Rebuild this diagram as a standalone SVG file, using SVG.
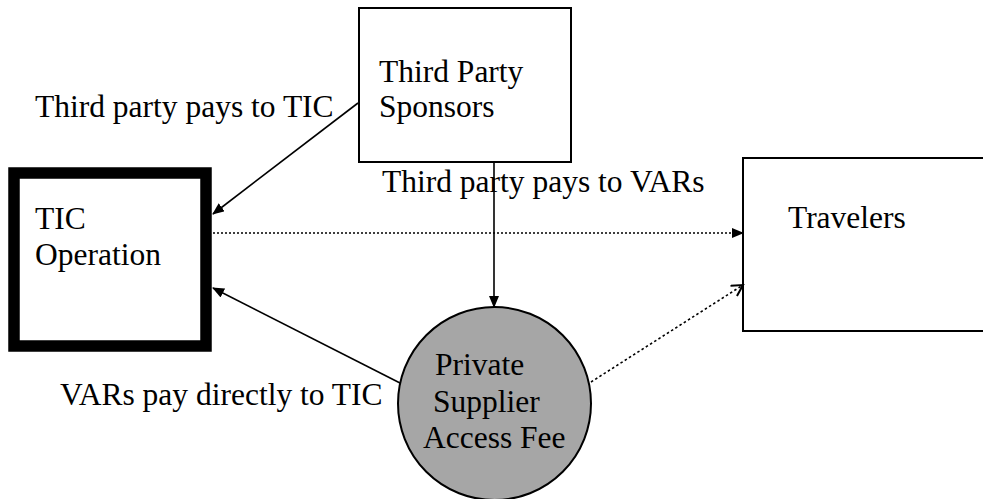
<svg xmlns="http://www.w3.org/2000/svg" width="983" height="499" viewBox="0 0 983 499">
<style>
text{font-family:"Liberation Serif","Times New Roman",serif;font-size:31.5px;fill:#000}
.box{fill:#fff;stroke:#000;stroke-width:2}
.conn{fill:none;stroke:#000;stroke-width:1.6}
</style>
<defs>
<marker id="fa" markerWidth="12" markerHeight="10" refX="11" refY="5" orient="auto" markerUnits="userSpaceOnUse">
<path d="M0,0 L12,5 L0,10 z" fill="#000"/>
</marker>
<marker id="oa" markerWidth="14" markerHeight="14" refX="12" refY="7" orient="auto" markerUnits="userSpaceOnUse">
<path d="M1,1 L12,7 L1,13" fill="none" stroke="#000" stroke-width="2"/>
</marker>
</defs>
<g id="tic">
<rect x="14" y="173" width="192" height="173" fill="#fff" stroke="#000" stroke-width="11.5"/>
<text x="35" y="229">TIC</text>
<text x="35" y="265">Operation</text>
</g>
<g id="sponsors">
<rect class="box" x="359" y="8" width="212" height="154"/>
<text x="379" y="82">Third Party</text>
<text x="379" y="117">Sponsors</text>
</g>
<g id="travelers">
<rect class="box" x="743" y="158" width="260" height="173"/>
<text x="788" y="228">Travelers</text>
</g>
<g id="fee">
<circle cx="494.5" cy="403.5" r="96.5" fill="#a6a6a6" stroke="#000" stroke-width="2"/>
<text x="435" y="375">Private</text>
<text x="433" y="412">Supplier</text>
<text x="423" y="448">Access Fee</text>
</g>
<g id="labels">
<text x="35" y="117">Third party pays to TIC</text>
<text x="382" y="192">Third party pays to VARs</text>
<text x="60" y="405">VARs pay directly to TIC</text>
</g>
<g id="connectors">
<line class="conn" x1="358" y1="103" x2="213" y2="214" marker-end="url(#fa)"/>
<line class="conn" x1="494" y1="162" x2="494" y2="307" marker-end="url(#fa)"/>
<line class="conn" x1="213" y1="233" x2="743" y2="233" stroke-width="1.2" stroke-dasharray="2,2" marker-end="url(#fa)"/>
<line class="conn" x1="400" y1="383" x2="213" y2="288" marker-end="url(#fa)"/>
<line class="conn" x1="591" y1="382" x2="743" y2="285" stroke-width="2.2" stroke-dasharray="2.5,2.5" marker-end="url(#oa)"/>
</g>
</svg>
